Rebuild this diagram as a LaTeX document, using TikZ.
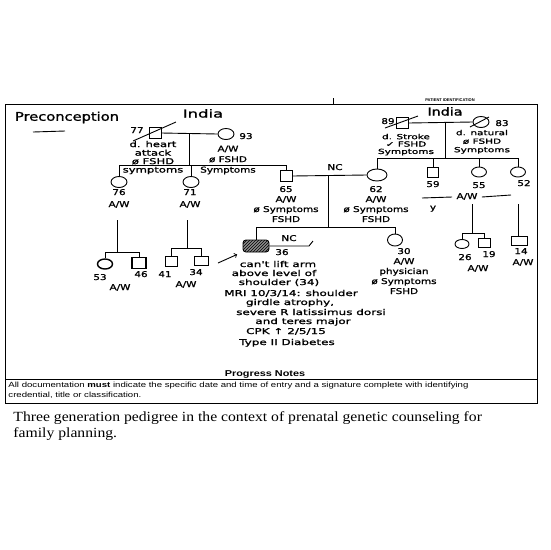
\documentclass[tikz,border=0pt]{standalone}
\usepackage{fontspec}
\usepackage{graphicx}
\usetikzlibrary{shapes.geometric,patterns,calc}

\newfontfamily\handfont[FakeBold=1.2]{DejaVu Sans}
\newfontfamily\printfont{Liberation Sans}
\newfontfamily\capfont{Liberation Serif}

% handwritten label, stretched sideways
\newcommand{\hw}[2][1.3]{\scalebox{#1}[1]{\begin{tabular}{@{}c@{}}#2\end{tabular}}}
% printed line of the scanned form, stretched sideways as well
\newcommand{\pr}[2][1.28]{\scalebox{#1}[1]{#2}}

\tikzset{
  male/.style={draw, rectangle, minimum width=12pt, minimum height=11pt, inner sep=0pt},
  female/.style={draw, ellipse, minimum width=16pt, minimum height=11pt, inner sep=0pt},
  hand/.style={font=\handfont\fontsize{8}{10}\selectfont, inner sep=0pt},
  print/.style={inner sep=0pt, anchor=base west},
  bold/.style={line width=1.4pt},
}

\begin{document}
\begin{tikzpicture}[x=1pt, y=-1pt, line width=0.9pt]
\useasboundingbox (0,0) rectangle (550,550);

% the form
\draw[line width=1pt] (5,104) rectangle (537,403);
\draw[line width=0.6pt] (5,379) -- (537,379);
\draw[line width=0.6pt] (333,98) -- (333,104);
\node[inner sep=0pt, font=\printfont\bfseries\fontsize{4}{4}\selectfont] (formid) at (450,100) {PATIENT IDENTIFICATION};
\node[print, anchor=base, font=\printfont\bfseries\fontsize{8.5}{10}\selectfont] (notes) at (265,376) {\pr{Progress Notes}};
\node[print, font=\printfont\fontsize{7.5}{9}\selectfont] (doc1) at (8,387) {\pr{All documentation \textbf{must} indicate the specific date and time of entry and a signature complete with identifying}};
\node[print, font=\printfont\fontsize{7.5}{9}\selectfont] (doc2) at (8,397) {\pr{credential, title or classification.}};
\node[print, font=\capfont\fontsize{14}{16}\selectfont] (cap1) at (13,421) {\pr[1.12]{Three generation pedigree in the context of prenatal genetic counseling for}};
\node[print, font=\capfont\fontsize{14}{16}\selectfont] (cap2) at (13,437) {\pr[1.12]{family planning.}};

% headings
\node[hand, font=\handfont\fontsize{12}{12}\selectfont] (title) at (67,118) {\hw[1.22]{Preconception}};
\draw (33,132) -- (65,131);
\node[hand, font=\handfont\fontsize{11}{11}\selectfont] (indiaL) at (203,115) {\hw[1.5]{India}};
\node[hand, font=\handfont\fontsize{11}{11}\selectfont] (indiaR) at (445,113) {\hw[1.3]{India}};

% generation I
\node[male] (i77) at (155,133) {};
\node[female] (i93) at (226,134) {};
\node[male] (i89) at (402,123) {};
\node[female] (i83) at (481,122) {};
\draw ($(i77)+(-22,8)$) -- ($(i77)+(21,-11)$);
\draw ($(i89)+(-17,5)$) -- ($(i89)+(16,-7)$);
\draw ($(i83)+(-11,5)$) -- ($(i83)+(8,-5)$);
\draw (i77.east) -- (i93.west);
\draw (i89.east) -- (i83.west);

\node[hand] (n77) at (137,131) {\hw{77}};
\node[hand] (n93) at (246,137) {\hw{93}};
\node[hand] (n89) at (388,122) {\hw{89}};
\node[hand] (n83) at (502,124) {\hw{83}};
\node[hand, font=\handfont\fontsize{8}{8.4}\selectfont] (t77) at (153,158) {\hw[1.45]{d. heart\\attack\\ø FSHD\\symptoms}};
\node[hand, font=\handfont\fontsize{8}{10.5}\selectfont] (t93) at (228,160) {\hw[1.3]{A/W\\ø FSHD\\Symptoms}};
\node[hand, font=\handfont\fontsize{7}{7.3}\selectfont] (t89) at (406,145) {\hw[1.5]{d. Stroke\\✓ FSHD\\Symptoms}};
\node[hand, font=\handfont\fontsize{7}{8.5}\selectfont] (t83) at (482,142) {\hw[1.5]{d. natural\\ø FSHD\\Symptoms}};

% generation II
\node[female] (i76) at (119,182) {};
\node[female] (i71) at (191,182) {};
\node[male] (i65) at (286,176) {};
\node[female, minimum width=20pt, minimum height=12pt] (i62) at (377,175) {};
\node[male, minimum width=11pt, minimum height=10pt] (i59) at (433,172) {};
\node[female, minimum width=15pt, minimum height=10pt] (i55) at (479,172) {};
\node[female, minimum width=15pt, minimum height=10pt] (i52) at (518,172) {};

\draw (189,133) coordinate (dL) -- (189,165) coordinate (sibL);
\draw (i76.north |- sibL) -- (i65.north |- sibL);
\foreach \n in {i76,i71,i65} \draw (\n.north) -- (\n.north |- sibL);
\draw (445,122) coordinate (dR) -- (445,158) coordinate (sibR);
\draw (i62.north |- sibR) -- (i52.north |- sibR);
\foreach \n in {i62,i59,i55,i52} \draw (\n.north) -- (\n.north |- sibR);

\node[hand] (t76) at (119,199) {\hw{76\\[2pt]A/W}};
\node[hand] (t71) at (190,199) {\hw{71\\[2pt]A/W}};
\node[hand] (t65) at (286,205) {\hw{65\\A/W\\ø Symptoms\\FSHD}};
\node[hand] (t62) at (376,205) {\hw{62\\A/W\\ø Symptoms\\FSHD}};
\node[hand] (n59) at (433,185) {\hw{59}};
\node[hand] (n55) at (479,186) {\hw{55}};
\node[hand] (n52) at (524,184) {\hw{52}};
\node[hand, inner xsep=4pt] (aw55) at (467,197) {\hw{A/W}};
\coordinate (awL) at (422,198);
\coordinate (awR) at (511,195);
\draw (awL) -- (aw55.west);
\draw (aw55.east) -- (awR);
\node[hand] (ymark) at (433,208) {\hw{y}};

% couple 65 / 62
\draw (i65.east) -- (i62.west);
\node[hand] (nc1) at (335,168) {\hw{NC}};
\draw (328,175.5) coordinate (dC) -- (328,227) coordinate (sibC);

% generation III
\node[male, minimum width=26pt, minimum height=12pt, rounded corners=3pt,
  preaction={fill=black!45}, pattern=north east lines] (i36) at (256,246) {};
\node[female, minimum width=15pt, minimum height=12pt] (i30) at (395,240) {};
\draw (i36.north |- sibC) -- (i30.north |- sibC);
\foreach \n in {i36,i30} \draw (\n.north) -- (\n.north |- sibC);

\node[hand] (nc2) at (289,239) {\hw{NC}};
\coordinate (ncEnd) at (313,241);
\draw (i36.east) -- (309,246) -- (ncEnd);
\node[hand] (n36) at (282,253) {\hw{36}};
\coordinate (arrTail) at (218,263);
\draw[->, shorten >=6pt] (arrTail) -- (i36);

\foreach \x/\y/\t [count=\i] in {
  278/265/{can't lift arm}, 274/274/{above level of}, 279/283/{shoulder (34)},
  291/294/{MRI 10/3/14: shoulder}, 290/303/{girdle atrophy,},
  311/313/{severe R latissimus dorsi}, 303/322/{and teres major},
  286/332/{CPK ↑ 2/5/15}, 287/343/{Type II Diabetes}}
  \node[hand] (note\i) at (\x,\y) {\hw[1.5]{\t}};

\node[hand] (t30) at (404,272) {\hw{30\\A/W\\physician\\ø Symptoms\\FSHD}};

% children of 76 and 71
\draw (117,220) coordinate (d76) -- (117,252) coordinate (sib76);
\node[female, bold, minimum width=15pt, minimum height=10pt] (i53) at (105,264) {};
\node[male, bold, minimum width=14pt, minimum height=11pt] (i46) at (139,263) {};
\draw (i53.north |- sib76) -- (i46.north |- sib76);
\foreach \n in {i53,i46} \draw (\n.north) -- (\n.north |- sib76);
\node[hand] (n53) at (100,278) {\hw{53}};
\node[hand] (n46) at (141,275) {\hw{46}};
\node[hand] (aw53) at (120,288) {\hw{A/W}};

\draw (187,220) coordinate (d71) -- (187,248) coordinate (sib71);
\node[male, minimum width=12pt, minimum height=10pt] (i41) at (171,261) {};
\node[male, minimum width=14pt, minimum height=9pt] (i34) at (201,261) {};
\draw (i41.north |- sib71) -- (i34.north |- sib71);
\foreach \n in {i41,i34} \draw (\n.north) -- (\n.north |- sib71);
\node[hand] (n41) at (165,275) {\hw{41}};
\node[hand] (n34) at (196,273) {\hw{34}};
\node[hand] (aw41) at (186,285) {\hw{A/W}};

% children of 55 and 52
\draw (472,204) coordinate (d55) -- (472,233) coordinate (sib55);
\node[female, minimum width=14pt, minimum height=9pt] (i26) at (462,244) {};
\node[male, minimum width=12pt, minimum height=9pt] (i19) at (484,243) {};
\draw (i26.north |- sib55) -- (i19.north |- sib55);
\foreach \n in {i26,i19} \draw (\n.north) -- (\n.north |- sib55);
\node[hand] (n26) at (465,258) {\hw{26}};
\node[hand] (n19) at (489,255) {\hw{19}};
\node[hand] (aw26) at (478,269) {\hw{A/W}};

\draw (518,204) coordinate (d52) -- (518,236) coordinate (sib52);
\node[male, minimum width=16pt, minimum height=9pt] (i14) at (519,241) {};
\draw (sib52) -- (i14.north);
\node[hand] (n14) at (521,252) {\hw{14}};
\node[hand] (aw14) at (523,263) {\hw{A/W}};
\end{tikzpicture}
\end{document}
